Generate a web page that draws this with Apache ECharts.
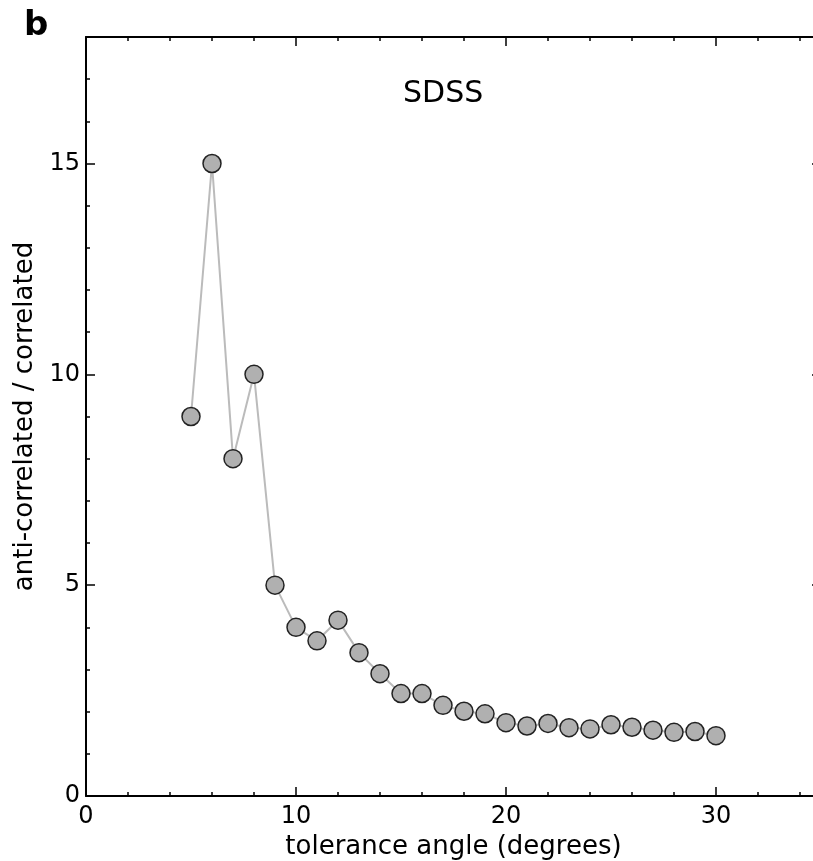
<!DOCTYPE html>
<html>
<head>
<meta charset="utf-8">
<script src="https://cdn.jsdelivr.net/npm/echarts@6/dist/echarts.min.js"></script>
<style>
  html, body { margin: 0; padding: 0; background: #fff; }
  #chart { width: 813px; height: 861px; }
</style>
</head>
<body>
<div id="chart"></div>
<script>
// tolerance angle (degrees)
const angles = [5, 6, 7, 8, 9, 10, 11, 12, 13, 14, 15, 16, 17, 18, 19, 20, 21, 22, 23, 24, 25, 26, 27, 28, 29, 30];
// anti-correlated / correlated ratio
const ratios = [9.0, 15.0, 8.0, 10.0, 5.0, 4.0, 3.68, 4.17, 3.4, 2.9, 2.43, 2.43, 2.15, 2.01, 1.95, 1.74, 1.66, 1.72, 1.62, 1.59, 1.69, 1.63, 1.56, 1.51, 1.53, 1.43];
const xRange = [0, 35];
const yRange = [0, 18];
const xMajor = 10, xMinor = 2;
const yMajor = 5, yMinor = 1;

const FONT = 'DejaVu Sans';
const chart = echarts.init(document.getElementById('chart'));

function xAx(pos, interval, len, line, labels) {
  return {
    type: 'value', position: pos, min: xRange[0], max: xRange[1], interval: interval,
    axisLine: { show: line, onZero: false, lineStyle: { color: '#000', width: 2 } },
    axisTick: { show: true, inside: true, length: len, lineStyle: { color: '#000', width: 1.5 } },
    axisLabel: { show: labels, showMaxLabel: false, margin: 9, color: '#000', fontSize: 24, fontFamily: FONT },
    splitLine: { show: false }
  };
}
function yAx(pos, interval, len, line, labels) {
  return {
    type: 'value', position: pos, min: yRange[0], max: yRange[1], interval: interval,
    axisLine: { show: line, onZero: false, lineStyle: { color: '#000', width: 2 } },
    axisTick: { show: true, inside: true, length: len, lineStyle: { color: '#000', width: 1.5 } },
    axisLabel: { show: labels, showMaxLabel: false, margin: 6, color: '#000', fontSize: 24, fontFamily: FONT },
    splitLine: { show: false }
  };
}

const xAxes = [
  xAx('bottom', xMajor, 9, true, true),
  xAx('bottom', xMinor, 4, false, false),
  xAx('top', xMajor, 9, true, false),
  xAx('top', xMinor, 4, false, false)
];
xAxes[0].name = 'tolerance angle (degrees)';
xAxes[0].nameLocation = 'middle';
xAxes[0].nameGap = 36;
xAxes[0].nameTextStyle = { color: '#000', fontSize: 26, fontFamily: FONT };

const yAxes = [
  yAx('left', yMajor, 9, true, true),
  yAx('left', yMinor, 4, false, false),
  yAx('right', yMajor, 9, true, false),
  yAx('right', yMinor, 4, false, false)
];
yAxes[0].name = 'anti-correlated / correlated';
yAxes[0].nameLocation = 'middle';
yAxes[0].nameGap = 43;
yAxes[0].nameTextStyle = { color: '#000', fontSize: 26, fontFamily: FONT };

chart.setOption({
  animation: false,
  backgroundColor: '#fff',
  grid: { left: 86, top: 37, right: -8, bottom: 65, containLabel: false, outerBoundsMode: 'none' },
  xAxis: xAxes,
  yAxis: yAxes,
  graphic: [
    { type: 'text', left: 24, top: 9, style: { text: 'b', fontSize: 34, fontWeight: 'bold', fontFamily: FONT, fill: '#000' } },
    { type: 'text', left: 403, top: 79, style: { text: 'SDSS', fontSize: 30, fontFamily: FONT, fill: '#000' } }
  ],
  series: [{
    type: 'line',
    xAxisIndex: 0, yAxisIndex: 0,
    data: angles.map((a, i) => [a, ratios[i]]),
    symbol: 'circle',
    symbolSize: 18,
    lineStyle: { color: '#bbbbbb', width: 2 },
    itemStyle: { color: '#b0b0b0', borderColor: '#222', borderWidth: 1.5 }
  }]
});
</script>
</body>
</html>
